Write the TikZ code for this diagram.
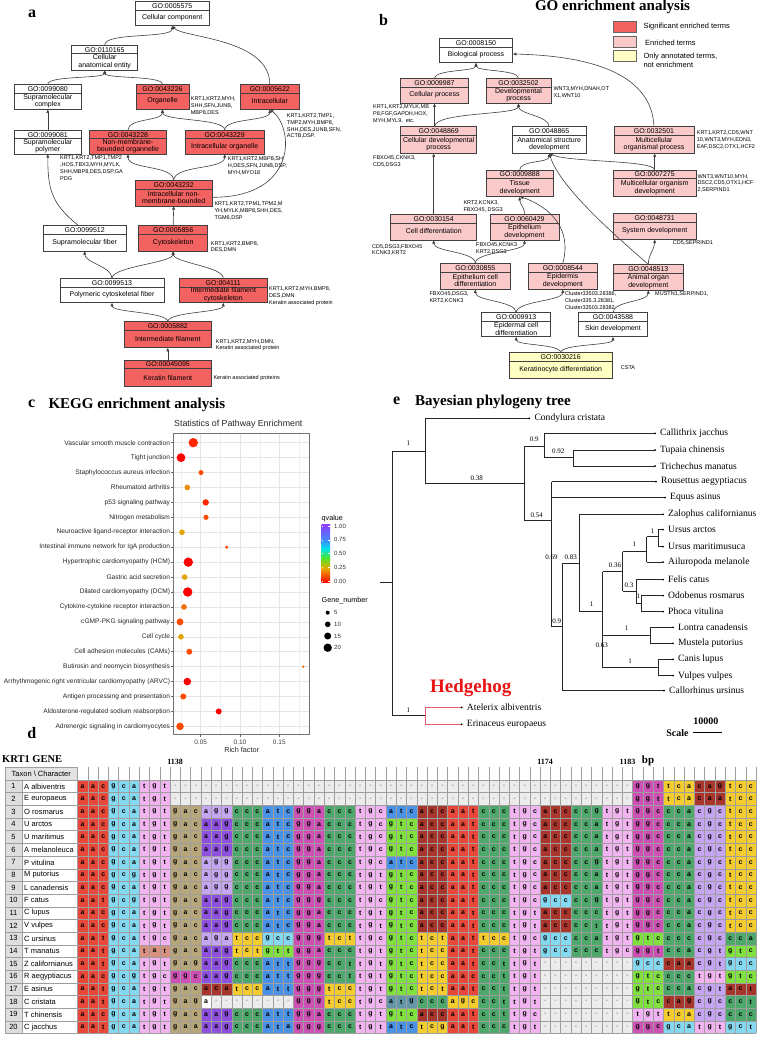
\documentclass[tikz,border=0pt]{standalone}
\usepackage{fontspec}
\setmainfont{Liberation Serif}
\newfontfamily\sansf{Liberation Sans}
\usetikzlibrary{arrows.meta,calc}
\definecolor{goRed}{RGB}{242,98,96}
\definecolor{goPink}{RGB}{250,202,202}
\definecolor{goYel}{RGB}{255,255,196}
\definecolor{cN}{RGB}{232,72,58}
\definecolor{cA}{RGB}{132,216,240}
\definecolor{cC}{RGB}{242,180,240}
\definecolor{cD}{RGB}{182,166,122}
\definecolor{cR}{RGB}{198,165,242}
\definecolor{cK}{RGB}{142,80,222}
\definecolor{cP}{RGB}{78,168,108}
\definecolor{cI}{RGB}{74,146,230}
\definecolor{cG}{RGB}{205,80,180}
\definecolor{cT}{RGB}{168,54,44}
\definecolor{cV}{RGB}{128,224,64}
\definecolor{cS}{RGB}{245,204,46}
\definecolor{cY}{RGB}{216,145,126}
\definecolor{cM}{RGB}{100,150,170}
\definecolor{gapc}{RGB}{236,236,236}
\definecolor{qR}{RGB}{255,0,0}
\definecolor{qR2}{RGB}{255,40,0}
\definecolor{qO1}{RGB}{255,75,0}
\definecolor{qO2}{RGB}{245,110,0}
\definecolor{qO3}{RGB}{235,140,0}
\definecolor{qY}{RGB}{225,165,0}
\definecolor{hedge}{RGB}{225,90,105}
\newcommand\gofont{\sansf\fontsize{7}{7.7}\selectfont}
\newcommand\genefont{\sansf\fontsize{5.5}{6.85}\selectfont}
\newcommand\gob[8]{%
  \node[gobox,fill=#6,minimum width=#4pt,minimum height=#5pt] (#1) at (#2,#3) {};
  \draw[black!75,line width=0.5pt] ([yshift=-8.5pt]#1.north west) -- ([yshift=-8.5pt]#1.north east);
  \node[font=\gofont,inner sep=0pt] (#1-id) at ([yshift=-4.6pt]#1.north) {#7};
  \node[font=\gofont,align=center,inner sep=0pt] (#1-tx) at ($(#1.south)!0.5!([yshift=-8.5pt]#1.north)$) {#8};
}
\newcommand\defcod[2]{\expandafter\def\csname cc#1\endcsname{#2}}
\defcod{aac}{cN}\defcod{aat}{cN}
\defcod{gca}{cA}\defcod{gcg}{cA}\defcod{gcc}{cA}\defcod{gct}{cA}
\defcod{tgt}{cC}\defcod{tgc}{cC}
\defcod{tat}{cY}
\defcod{gac}{cD}\defcod{gag}{cD}\defcod{gaa}{cD}
\defcod{agg}{cR}\defcod{aga}{cR}\defcod{cgc}{cR}\defcod{cgt}{cR}
\defcod{aag}{cK}
\defcod{ccc}{cP}\defcod{cca}{cP}\defcod{ccg}{cP}\defcod{cct}{cP}
\defcod{atc}{cI}\defcod{att}{cI}\defcod{ata}{cI}
\defcod{atg}{cM}
\defcod{gga}{cG}\defcod{ggg}{cG}\defcod{ggc}{cG}\defcod{ggt}{cG}
\defcod{acc}{cT}\defcod{aca}{cT}\defcod{act}{cT}\defcod{cag}{cT}\defcod{caa}{cT}
\defcod{gtc}{cV}\defcod{gtt}{cV}
\defcod{tca}{cS}\defcod{tcc}{cS}\defcod{tct}{cS}\defcod{tcg}{cS}\defcod{agc}{cS}
\defcod{---}{gapc}\defcod{a--}{white}
\newcommand\defseq[2]{\expandafter\def\csname seqrow#1\endcsname{#2}}
\defseq{1}{aac,gca,tgt,---,---,---,---,---,---,---,---,---,---,---,---,---,---,---,ggt,tca,cag,tcc}
\defseq{2}{aac,gca,tgt,---,---,---,---,---,---,---,---,---,---,---,---,---,---,---,ggt,tca,caa,tcc}
\defseq{3}{aac,gca,tgt,gac,agg,ccc,atc,gga,ccc,tgc,atc,acc,aat,ccc,tgc,acc,ccg,tgt,ggc,cca,cgc,tcc}
\defseq{4}{aac,gca,tgt,gac,aag,ccc,atc,gga,ccc,tgc,gtc,acc,aat,ccc,tgc,acc,cca,tgt,ggc,cca,cgc,tcc}
\defseq{5}{aac,gca,tgt,gac,aag,ccc,atc,gga,ccc,tgc,gtc,acc,aat,ccc,tgc,acc,cca,tgt,ggc,cca,cgc,tcc}
\defseq{6}{aac,gca,tgt,gac,aag,ccc,atc,gga,ccc,tgc,gtc,acc,aat,ccc,tgc,acc,cca,tgt,ggc,cca,cgc,tcc}
\defseq{7}{aac,gca,tgt,gac,agg,ccc,atc,gga,ccc,tgc,atc,acc,aat,ccc,tgc,acc,ccg,tgt,ggc,cca,cgc,tcc}
\defseq{8}{aac,gcg,tgt,gac,agg,ccc,atc,gga,ccc,tgt,gtc,acc,aat,ccc,tgc,acc,cca,tgt,ggc,cca,cgc,tcc}
\defseq{9}{aac,gca,tgt,gac,agg,ccc,atc,gga,ccc,tgt,gtc,acc,aat,ccc,tgc,acc,cca,tgt,ggc,cca,cgc,tcc}
\defseq{10}{aat,gcg,tgt,gac,aag,ccc,atc,ggg,ccc,tgc,gtc,acc,aat,ccc,tgc,gcc,ccg,tgt,ggc,cca,cgc,tcc}
\defseq{11}{aac,gca,tgt,gac,aag,ccc,atc,gga,ccc,tgt,gtc,acc,aat,ccc,tgt,acc,ccc,tgt,ggc,cca,cgc,tcc}
\defseq{12}{aac,gca,tgt,gac,aag,ccc,atc,gga,ccc,tgt,gtc,acc,aat,ccc,tgt,acc,cct,tgt,ggc,cca,cgc,tcc}
\defseq{13}{aat,gca,tgc,gac,aga,tcc,gcc,ggg,tct,tgc,gtc,tct,aat,tcc,tgc,gcc,cca,tgt,gtc,ccc,cgc,cca}
\defseq{14}{aat,gca,tat,gac,aag,tct,gtt,gga,ccc,tgt,gtc,tcc,aat,ccc,tgt,gcc,ccc,tgc,ggt,cca,cgt,gtc}
\defseq{15}{aat,gca,tgt,gag,aag,ccc,att,ggg,cct,tgt,gtc,tcc,aat,cct,tgt,---,---,---,gcc,caa,cgt,gcc}
\defseq{16}{aac,gcg,tgc,ggc,aag,ccc,att,ggg,cct,tgt,gtc,tcc,aac,cct,tgt,---,---,---,gtc,ccc,tgt,gtc}
\defseq{17}{aat,gca,tgt,gac,aca,tcc,att,ggg,tcc,tgt,gtc,tct,aat,cct,tgt,---,---,---,gtc,cca,cgt,act}
\defseq{18}{aat,gca,tgt,gag,a--,---,---,ggg,tcc,tgc,atg,ccc,agc,cct,tgt,---,---,---,gtc,cag,cgc,cct}
\defseq{19}{aac,gca,tgt,gac,aag,ccc,att,gga,ccc,tgt,gtc,acc,aat,cct,tgc,---,---,---,tgt,tca,cgc,ccc}
\defseq{20}{aat,gca,tgt,gaa,aag,ccc,ata,ggg,ccc,tgt,atc,tcg,aat,ccc,tgt,---,---,---,ggc,gca,tgt,gct}
\def\splitcod#1#2#3\relax{\dochar{0}{#1}\dochar{1}{#2}\dochar{2}{#3}}
\newcommand\dochar[2]{%
  \pgfmathsetmacro\qx{77.5+(3*\k+#1)*10.28}%
  \if#2-\def\qcol{gapc}\def\qtxt{\textcolor{black!40}{-}}\else\edef\qcol{\csname cc\cod\endcsname}\def\qtxt{#2}\fi
  \fill[fill=\qcol] (\qx,\ry) rectangle ++(10.28,12.67);
  \node[seqtxt] (s\r-\k-#1) at (\qx+5.14,\ry+6.4) {\qtxt};
}
\newcommand\tleaf[4]{%
  \node[circle,fill=black,inner sep=0pt,minimum size=2pt] (#1) at (#2,#3) {};
  \node[font=\fontsize{9.6}{10}\selectfont,anchor=west,inner sep=0pt] (#1-l) at (#2+5,#3) {#4};
}
\begin{document}
\begin{tikzpicture}[x=1pt,y=-1pt,
  gobox/.style={draw=black!75,line width=0.6pt,inner sep=0pt,outer sep=0pt},
  goedge/.style={draw=black!75,line width=0.6pt,-{Latex[length=3.6pt,width=3.2pt]}},
  gene/.style={font=\genefont,align=left,inner sep=0pt,anchor=north west},
  genew/.style={font=\genefont,inner sep=0pt,anchor=west},
  plab/.style={font=\bfseries\fontsize{16}{16}\selectfont,inner sep=0pt},
  ttl/.style={font=\bfseries\fontsize{15}{15}\selectfont,inner sep=0pt},
  tree/.style={line width=0.6pt,black!85},
  supp/.style={font=\fontsize{7}{7}\selectfont,inner sep=0pt},
  seqtxt/.style={font=\sansf\bfseries\fontsize{6.9}{7}\selectfont,inner sep=0pt},
  tblf/.style={font=\sansf\fontsize{7.5}{8}\selectfont,inner sep=0pt},
  kegf/.style={font=\sansf\fontsize{6.6}{7}\selectfont,inner sep=0pt,text=black!85},
  legf/.style={font=\sansf\fontsize{7.5}{8.3}\selectfont,inner sep=0pt,align=left}]
\useasboundingbox (0,0) rectangle (760,1039);
\fill[white] (0,0) rectangle (760,1039);

% ================= panel a =================
\node[plab] (la) at (32,14) {a};
\gob{a1}{172.2}{13.7}{74.3}{24}{white}{GO:0005575}{Cellular component}
\gob{a2}{104.7}{57.5}{66}{25}{white}{GO:0110165}{Cellular\\anatomical entity}
\gob{a3}{47.8}{96.8}{67.7}{25}{white}{GO:0099080}{Supramolecular\\complex}
\gob{a4}{162.5}{96.8}{53}{25}{goRed}{GO:0043226}{Organelle}
\gob{a5}{269.8}{96.8}{58.3}{25}{goRed}{GO:0005622}{Intracellular}
\gob{a6}{47.8}{142}{67.7}{24}{white}{GO:0099081}{Supramolecular\\polymer}
\gob{a7}{128}{142}{77.3}{24}{goRed}{GO:0043228}{Non-membrane-\\bounded organnelle}
\gob{a8}{224.7}{142}{78.7}{24}{goRed}{GO:0043229}{Intracellular organelle}
\gob{a9}{173.7}{193.3}{77.3}{25.3}{goRed}{GO:0043232}{Intracellular non-\\membrane-bounded}
\gob{a10}{84.7}{238.3}{82.7}{25.3}{white}{GO:0099512}{Supramolecular fiber}
\gob{a11}{173.2}{238.3}{69}{25.3}{goRed}{GO:0005856}{Cytoskeleton}
\gob{a12}{112}{290.5}{104}{24.3}{white}{GO:0099513}{Polymeric cytoskeletal fiber}
\gob{a13}{223.3}{290.5}{88}{24.3}{goRed}{GO:004111}{Intermediate filament\\cytoskeleton}
\gob{a14}{167.8}{334.7}{87.7}{26}{goRed}{GO:0005882}{Intermediate filament}
\gob{a15}{167.8}{373.3}{87.7}{26.7}{goRed}{GO:00045095}{Keratin filament}

\node[gene] (a4g) at (190.7,96.6) {KRT1,KRT2,MYH,\\SHH,SFN,JUNB,\\MBP8,DES};
\node[gene] (a5g) at (286.7,113.3) {KRT1,KRT2,TMP1,\\TMP2,MYH,BMP8,\\SHH,DES,JUNB,SFN,\\ACTB,DSP.};
\node[gene] (a7g) at (60,155.6) {KRT1,KRT2,TMP1,TMP2\\,HOS,TBX3,MYH,MYLK,\\SHH,MBP8,DES,DSP,GA\\PDG};
\node[gene] (a8g) at (227.7,156.3) {KRT1,KRT2,MBP8,SH\\H,DES,SFN,JUNB,DSP,\\MYH,MYO18};
\node[gene] (a9g) at (214.3,201.6) {KRT1,KRT2,TPM1,TPM2,M\\YH,MYLK,MBP8,SHH,DES,\\TGM6,DSP};
\node[gene] (a11g) at (210.7,241) {KRT1,KRT2,BMP8,\\DES,DMN};
\node[gene] (a13g) at (269,286.3) {KRT1,KRT2,MYH,BMP8,\\DES,DMN\\Keratin associated protein};
\node[gene] (a14g) at (215.7,339) {KRT1,KRT2,MYH,DMN,\\Keratin associated protein};
\node[genew] (a15g) at (213.3,377.7) {Keratin associated proteins};

\draw[goedge] (a2.north) .. controls +(0,-13) and +(0,13) .. (a1.south);
\draw[goedge] (a5.north) .. controls +(0,-46) and +(10,12) .. (a1.south);
\draw[goedge] (a3.north) .. controls +(0,-9) and +(0,9) .. (a2.south);
\draw[goedge] (a4.north) .. controls +(0,-9) and +(0,9) .. (a2.south);
\draw[goedge] (a6.north) -- (a3.south);
\draw[goedge] (a7.north) .. controls +(0,-12) and +(0,12) .. (a4.south);
\draw[goedge] (a8.north) .. controls +(0,-12) and +(0,12) .. (a4.south);
\draw[goedge] (a8.north) .. controls +(0,-12) and +(0,12) .. (a5.south);
\draw[goedge] (a9.north) .. controls +(0,-16) and +(0,16) .. (a7.south);
\draw[goedge] (a9.north) .. controls +(0,-16) and +(0,16) .. (a8.south);
\draw[goedge] ([yshift=-4pt]a9.east) .. controls (298,197.3) and (294,128) .. (a5.south);
\draw[goedge] ([xshift=-6pt]a10.north) .. controls +(-28,-22) and +(0,34) .. (a6.south);
\draw[goedge] (a11.north) -- (a9.south);
\draw[goedge] (a12.north) .. controls +(0,-12) and +(0,12) .. (a10.south);
\draw[goedge] (a12.north) .. controls +(0,-12) and +(0,12) .. (a11.south);
\draw[goedge] (a13.north) .. controls +(0,-12) and +(0,12) .. (a11.south);
\draw[goedge] (a14.north) .. controls +(0,-10) and +(0,10) .. (a12.south);
\draw[goedge] (a14.north) .. controls +(0,-10) and +(0,10) .. (a13.south);
\draw[goedge] (a15.north) -- (a14.south);

% ================= panel b =================
\node[plab] (lb) at (383.5,20) {b};
\node[ttl] (tb) at (612.5,7) {GO enrichment analysis};
\node[draw=black!60,fill=goRed,minimum width=22.7pt,minimum height=11pt,inner sep=0pt] (lg1) at (624.7,26.2) {};
\node[draw=black!60,fill=goPink,minimum width=22.7pt,minimum height=11pt,inner sep=0pt] (lg2) at (624.7,41.2) {};
\node[draw=black!60,fill=goYel,minimum width=22.7pt,minimum height=11pt,inner sep=0pt] (lg3) at (624.7,55.5) {};
\node[legf,anchor=west] (lg1t) at (643.3,26.7) {Significant enriched terms};
\node[legf,anchor=west] (lg2t) at (645,42.5) {Enriched terms};
\node[legf,anchor=north west] (lg3t) at (643.3,53.3) {Only annotated terms,\\not enrichment};

\gob{b1}{476}{50.5}{73.4}{24.4}{white}{GO:0008150}{Biological process}
\gob{b2}{434.5}{90.8}{67.6}{25}{goPink}{GO:0009987}{Cellular process}
\gob{b3}{518.5}{90.8}{65}{25}{goPink}{GO:0032502}{Developmental\\process}
\gob{b4}{438.7}{140}{76}{26.6}{goPink}{GO:0048869}{Cellular developmental\\process}
\gob{b5}{549.2}{140}{73.7}{26.6}{white}{GO:0048865}{Anatomical structure\\development}
\gob{b6}{654}{140}{80}{26.6}{goPink}{GO:0032501}{Multicellular\\organismal process}
\gob{b7}{519.7}{183.3}{67.3}{26.7}{goPink}{GO:0009888}{Tissue\\development}
\gob{b8}{654.7}{183.3}{82.7}{26.7}{goPink}{GO:0007275}{Multicellular organism\\development}
\gob{b9}{433.7}{227.2}{86}{25.7}{goPink}{GO:0030154}{Cell differentiation}
\gob{b10}{524.5}{227.2}{69}{25.7}{goPink}{GO:0060429}{Epithelium\\development}
\gob{b11}{654.7}{226.3}{82.7}{26}{goPink}{GO:0048731}{System development}
\gob{b12}{475.3}{276.3}{69.3}{26}{goPink}{GO:0030855}{Epithelium cell\\differentiation}
\gob{b13}{562.8}{276.3}{69}{26}{goPink}{GO:0008544}{Epidermis\\development}
\gob{b14}{648.3}{277.2}{70}{25.7}{goPink}{GO:0048513}{Animal organ\\development}
\gob{b15}{516.2}{324.7}{69}{24}{white}{GO:0009913}{Epidermal cell\\differentiation}
\gob{b16}{613}{324.7}{69.4}{24}{white}{GO:0043588}{Skin development}
\gob{b17}{560.7}{365.5}{103.3}{25.6}{goYel}{GO:0030216}{Keratinocyte differentiation}

\node[gene] (b2g) at (373,104.6) {KRT1,KRT2,MYLK,MB\\P8,FGF,GAPDH,HOX,\\MYH,MYL9,\ \ etc.};
\node[gene] (b3g) at (553.3,86.6) {WNT3,MYH,DNAH,OT\\X1,WNT10};
\node[gene] (b4g) at (373,155.6) {FBXO45,CKNK3,\\CD5,DSG3};
\node[gene] (b6g) at (696.7,130.6) {KRT1,KRT2,CD5,WNT\\10,WNT3,MYH,EDN3,\\EAF,DSC2,OTX1,HCF2};
\node[gene] (b8g) at (697.3,174) {WNT3,WNT10,MYH,\\DSC2,CD5,OTX1,HCF\\2,SERPIND1};
\node[gene] (b9g) at (372,244) {CD5,DSG3,FBXO45\\KCNK3,KRT2};
\node[gene] (b10ga) at (463.3,200.6) {KRT2,KCNK3,\\FBXO45, DSG3};
\node[gene] (b10gb) at (476,242.3) {FBXO45,KCNK3\\KRT2,DSG3};
\node[genew] (b11g) at (672.7,242.7) {CD5,SEPRIND1};
\node[gene] (b12g) at (429.3,291.3) {FBXO45,DSG3,\\KRT2,KCNK3};
\node[gene] (b13g) at (565,291.3) {Cluster33503.28386,\\Cluster335.3.28381,\\Cluster33503.28382};
\node[genew] (b14g) at (655,294) {MUSTN1,SERPIND1,};
\node[genew] (b17g) at (620.7,367.3) {CSTA};

\draw[goedge] (b2.north) .. controls +(0,-9) and +(0,9) .. (b1.south);
\draw[goedge] (b3.north) .. controls +(0,-9) and +(0,9) .. (b1.south);
\draw[goedge] (b6.north) .. controls (652,78) and (600,56) .. ([yshift=-3.5pt]b1.east);
\draw[goedge] (b2.south |- b4.north) -- (b2.south);
\draw[goedge] (b2.south |- b4.north) .. controls +(0,-15) and +(0,12) .. (b3.south);
\draw[goedge] (b5.north) .. controls +(0,-11) and +(0,11) .. (b3.south);
\draw[goedge] (b9.north) -- (b9.north |- b4.south);
\draw[goedge] (b7.north) .. controls +(0,-10) and +(0,10) .. (b5.south);
\draw[goedge] (b8.north) .. controls +(0,-10) and +(18,9) .. (b5.south);
\draw[goedge] (b8.north) -- (b8.north |- b6.south);
\draw[goedge] (b14.north) .. controls (618,238) and (560,188) .. (b5.south);
\draw[goedge] (b14.north) .. controls +(0,-10) and +(0,10) .. (b11.south);
\draw[goedge] (b10.north) .. controls +(0,-8) and +(0,8) .. (b7.south);
\draw[goedge] (b13.north) .. controls (574,222) and (540,203) .. (b7.south);
\draw[goedge] (b12.north) .. controls +(0,-12) and +(0,12) .. (b9.south);
\draw[goedge] (b12.north) .. controls +(0,-12) and +(0,12) .. (b10.south);
\draw[goedge] (b15.north) .. controls +(0,-12) and +(0,12) .. (b12.south);
\draw[goedge] (b15.north) .. controls +(0,-12) and +(0,12) .. (b13.south);
\draw[goedge] (b16.north) .. controls +(0,-12) and +(0,12) .. (b14.south);
\draw[goedge] (b17.north) .. controls +(0,-9) and +(0,9) .. (b15.south);
\draw[goedge] (b17.north) .. controls +(0,-9) and +(0,9) .. (b16.south);

% ================= panel c =================
\node[plab] (lc) at (31.7,404) {c};
\node[ttl,anchor=west] (tc) at (48.3,405) {KEGG enrichment analysis};
\node[font=\sansf\fontsize{8.8}{9}\selectfont,inner sep=0pt,text=black!85] (tcs) at (238.3,424.3) {Statistics of Pathway Enrichment};
\fill[white] (173.3,433.3) rectangle (309.3,734.3);
\foreach \i in {0,...,19}{\draw[black!10,line width=0.5pt] (173.3,442.7+\i*14.93) -- (309.3,442.7+\i*14.93);}
\foreach \xx in {181,220.3,259.7,299}{\draw[black!6,line width=0.35pt] (\xx,433.3) -- (\xx,734.3);}
\foreach \xx in {200.7,240,279.3}{\draw[black!10,line width=0.5pt] (\xx,433.3) -- (\xx,734.3);}
\foreach \lab/\xx/\rr/\cl [count=\i] in {
 Vascular smooth muscle contraction/193.3/4.7/qR2,
 Tight junction/181/4.4/qR,
 Staphylococcus aureus infection/201/2.5/qO1,
 Rheumatoid arthritis/187.3/2.8/qO3,
 p53 signaling pathway/205.7/3.2/qR2,
 Nitrogen metabolism/206/2.6/qO1,
 Neuroactive ligand-receptor interaction/182/2.8/qY,
 Intestinal immune network for IgA production/226.7/1.7/qO1,
 Hypertrophic cardiomyopathy (HCM)/188.3/4.7/qR,
 Gastric acid secretion/184.7/2.8/qY,
 Dilated cardiomyopathy (DCM)/187.7/4.7/qR,
 Cytokine-cytokine receptor interaction/184/2.8/qO2,
 cGMP-PKG signaling pathway/180/3.5/qO1,
 Cell cycle/181/2.8/qY,
 Cell adhesion molecules (CAMs)/189.3/3/qO1,
 Butirosin and neomycin biosynthesis/303.3/1.3/qO2,
 Arrhythmogenic right ventricular cardiomyopathy (ARVC)/187.3/3.8/qR,
 Antigen processing and presentation/183.3/3/qO1,
 Aldosterone-regulated sodium reabsorption/218.7/3/qR,
 Adrenergic signaling in cardiomyocytes/180/3.8/qO1}{
  \pgfmathsetmacro\yy{442.7+(\i-1)*14.93}
  \node[kegf,anchor=east] (kl\i) at (170.2,\yy) {\lab};
  \draw[black!60,line width=0.5pt] (170.6,\yy) -- (173.3,\yy);
  \node[circle,fill=\cl,inner sep=0pt,minimum size=2*\rr pt] (kd\i) at (\xx,\yy) {};
}
\draw[black!55,line width=0.8pt] (173.3,433.3) rectangle (309.3,734.3);
\foreach \xx/\tt [count=\j] in {200.7/0.05,240/0.10,279.3/0.15}{
  \draw[black!60,line width=0.5pt] (\xx,734.3) -- (\xx,737);
  \node[font=\sansf\fontsize{6.5}{7}\selectfont,inner sep=0pt,text=black!75] (xt\j) at (\xx,742) {\tt};
}
\node[font=\sansf\fontsize{7.3}{8}\selectfont,inner sep=0pt,text=black!85] (rf) at (241.7,750.3) {Rich factor};
% legend
\node[font=\sansf\fontsize{7.2}{8}\selectfont,inner sep=0pt,anchor=west] (qv) at (321.5,518.3) {qvalue};
\shade[top color={rgb,255:red,145;green,60;blue,255},bottom color={rgb,255:red,70;green,130;blue,255}] (321.7,524.3) rectangle (330,538.9);
\shade[top color={rgb,255:red,70;green,130;blue,255},bottom color={rgb,255:red,0;green,225;blue,230}] (321.7,538.9) rectangle (330,548.8);
\shade[top color={rgb,255:red,0;green,225;blue,230},bottom color={rgb,255:red,80;green,230;blue,40}] (321.7,548.8) rectangle (330,558.2);
\shade[top color={rgb,255:red,80;green,230;blue,40},bottom color={rgb,255:red,230;green,170;blue,0}] (321.7,558.2) rectangle (330,568.1);
\shade[top color={rgb,255:red,230;green,170;blue,0},bottom color={rgb,255:red,255;green,0;blue,0}] (321.7,568.1) rectangle (330,582.7);
\foreach \yy/\tt [count=\j] in {526/1.00,539.7/0.75,553.3/0.50,567/0.25,581/0.00}{
  \draw[white,line width=0.4pt] (321.7,\yy) -- (323.3,\yy) (328.4,\yy) -- (330,\yy);
  \node[font=\sansf\fontsize{6}{6}\selectfont,inner sep=0pt,anchor=west,text=black!80] (qt\j) at (334,\yy) {\tt};
}
\node[font=\sansf\fontsize{7.2}{8}\selectfont,inner sep=0pt,anchor=west] (gn) at (321.5,600.7) {Gene\_number};
\foreach \yy/\rr/\tt [count=\j] in {612.7/2/5,624.3/2.8/10,636/3.5/15,647.7/4.2/20}{
  \node[circle,fill=black,inner sep=0pt,minimum size=2*\rr pt] (gd\j) at (327.7,\yy) {};
  \node[font=\sansf\fontsize{6}{6}\selectfont,inner sep=0pt,anchor=west,text=black!80] (gt\j) at (334,\yy) {\tt};
}

% ================= panel e =================
\node[plab] (le) at (396.7,401) {e};
\node[ttl,anchor=west] (te) at (415,401.7) {Bayesian phylogeny tree};
\draw[tree] (380,582.7) -- (392.7,582.7);
\draw[tree] (392.7,451) -- (392.7,715.7);
\draw[tree] (392.7,451) -- (425,451);
\draw[tree] (425,418.3) -- (425,483.3);
\draw[tree] (425,418.3) -- (529.3,418.3);
\draw[tree] (425,483.3) -- (524,483.3);
\draw[tree] (524,446) -- (524,520);
\draw[tree] (524,446) -- (544.3,446);
\draw[tree] (544.3,433.3) -- (544.3,457.7);
\draw[tree] (544.3,433.3) -- (655,433.3);
\draw[tree] (544.3,457.7) -- (573.3,457.7);
\draw[tree] (573.3,450) -- (573.3,466);
\draw[tree] (573.3,450) -- (655,450);
\draw[tree] (573.3,466) -- (655,466);
\draw[tree] (524,520) -- (551.7,520);
\draw[tree] (551.7,481.7) -- (551.7,626.7);
\draw[tree] (551.7,481.7) -- (656,481.7);
\draw[tree] (551.7,497.7) -- (665,497.7);
\draw[tree] (551.7,626.7) -- (562.3,626.7);
\draw[tree] (562.3,563.3) -- (562.3,690.5);
\draw[tree] (562.3,563.3) -- (579.3,563.3);
\draw[tree] (562.3,690.5) -- (664,690.5);
\draw[tree] (579.3,514.3) -- (579.3,611.7);
\draw[tree] (579.3,514.3) -- (663,514.3);
\draw[tree] (579.3,611.7) -- (602.7,611.7);
\draw[tree] (602.7,571.7) -- (602.7,667.7);
\draw[tree] (602.7,571.7) -- (622.7,571.7);
\draw[tree] (622.7,551.7) -- (622.7,591);
\draw[tree] (622.7,551.7) -- (646.7,551.7);
\draw[tree] (646.7,536.7) -- (646.7,562);
\draw[tree] (646.7,536.7) -- (658.3,536.7);
\draw[tree] (658.3,529.5) -- (658.3,546.5);
\draw[tree] (658.3,529.5) -- (663,529.5);
\draw[tree] (658.3,546.5) -- (663,546.5);
\draw[tree] (646.7,562) -- (663,562);
\draw[tree] (622.7,591) -- (636,591);
\draw[tree] (636,579.5) -- (636,603.3);
\draw[tree] (636,579.5) -- (663,579.5);
\draw[tree] (636,603.3) -- (641,603.3);
\draw[tree] (641,595.5) -- (641,611.7);
\draw[tree] (641,595.5) -- (663,595.5);
\draw[tree] (641,611.7) -- (663,611.7);
\draw[tree] (602.7,635) -- (650,635);
\draw[tree] (650,627.3) -- (650,643.3);
\draw[tree] (650,627.3) -- (673,627.3);
\draw[tree] (650,643.3) -- (673,643.3);
\draw[tree] (602.7,667.7) -- (658.3,667.7);
\draw[tree] (658.3,659.3) -- (658.3,675.7);
\draw[tree] (658.3,659.3) -- (673,659.3);
\draw[tree] (658.3,675.7) -- (673,675.7);
\draw[tree] (392.7,715.7) -- (425,715.7);
\draw[line width=0.6pt,hedge] (425,707.3) -- (425,724.3);
\draw[line width=0.6pt,hedge] (425,707.3) -- (461.7,707.3);
\draw[line width=0.6pt,hedge] (425,724.3) -- (461.7,724.3);
\tleaf{t1}{529.3}{418.3}{Condylura cristata}
\tleaf{t2}{655}{433.3}{Callithrix jacchus}
\tleaf{t3}{655}{450}{Tupaia chinensis}
\tleaf{t4}{655}{466}{Trichechus manatus}
\tleaf{t5}{656}{481.7}{Rousettus aegyptiacus}
\tleaf{t6}{665}{497.7}{Equus asinus}
\tleaf{t7}{663}{514.3}{Zalophus californianus}
\tleaf{t8}{663}{529.5}{Ursus arctos}
\tleaf{t9}{663}{546.5}{Ursus maritimusuca}
\tleaf{t10}{663}{562}{Ailuropoda melanole}
\tleaf{t11}{663}{579.5}{Felis catus}
\tleaf{t12}{663}{595.5}{Odobenus rosmarus}
\tleaf{t13}{663}{611.7}{Phoca vitulina}
\tleaf{t14}{673}{627.3}{Lontra canadensis}
\tleaf{t15}{673}{643.3}{Mustela putorius}
\tleaf{t16}{673}{659.3}{Canis lupus}
\tleaf{t17}{673}{675.7}{Vulpes vulpes}
\tleaf{t18}{664}{690.5}{Callorhinus ursinus}
\tleaf{t19}{461.7}{707.3}{Atelerix albiventris}
\tleaf{t20}{461.7}{724.3}{Erinaceus europaeus}
\node[supp] (e1) at (408.3,443.3) {1};
\node[supp] (e2) at (476.7,478) {0.38};
\node[supp] (e3) at (534.3,439.3) {0.9};
\node[supp] (e4) at (558.3,451) {0.92};
\node[supp] (e5) at (536.7,515.5) {0.54};
\node[supp] (e6) at (551.5,557.3) {0.69};
\node[supp] (e7) at (570.7,557.3) {0.83};
\node[supp] (e8) at (556.7,621) {0.9};
\node[supp] (e9) at (591.7,604.3) {1};
\node[supp] (e10) at (615,565) {0.36};
\node[supp] (e11) at (634.3,544.3) {1};
\node[supp] (e12) at (652.7,531) {1};
\node[supp] (e13) at (629,585) {0.3};
\node[supp] (e14) at (638.3,595.7) {1};
\node[supp] (e15) at (626.7,628.3) {1};
\node[supp] (e16) at (601.7,645) {0.63};
\node[supp] (e17) at (630,661) {1};
\node[supp] (e18) at (408.3,710) {1};
\node[font=\bfseries\fontsize{19}{19}\selectfont,text={rgb,255:red,235;green,20;blue,20},inner sep=0pt] (hh) at (470.8,688.3) {Hedgehog};
\node[font=\bfseries\fontsize{10}{10}\selectfont,inner sep=0pt] (sc1) at (705.8,721.7) {10000};
\node[font=\bfseries\fontsize{10}{10}\selectfont,inner sep=0pt] (sc2) at (677.5,733.3) {Scale};
\coordinate (scA) at (693.3,732.3);
\coordinate (scB) at (721.7,732.3);
\draw[line width=0.7pt] (scA) -- (scB);

% ================= panel d =================
\node[plab] (ld) at (31.7,733.3) {d};
\node[font=\bfseries\fontsize{10.5}{11}\selectfont,inner sep=0pt,anchor=west] (kg) at (2,759.5) {KRT1 GENE};
\node[font=\bfseries\fontsize{8}{8}\selectfont,inner sep=0pt] (p1) at (175.2,761.7) {1138};
\node[font=\bfseries\fontsize{8}{8}\selectfont,inner sep=0pt] (p2) at (545.2,761.7) {1174};
\node[font=\bfseries\fontsize{8}{8}\selectfont,inner sep=0pt] (p3) at (627.5,761.7) {1183};
\node[font=\bfseries\fontsize{11}{11}\selectfont,inner sep=0pt] (p4) at (648,761.2) {bp};
\fill[black!11] (5,767) rectangle (77.5,780);
\fill[black!13] (5,780) rectangle (22,1033.4);
\node[tblf] (taxh) at (41.3,773.7) {Taxon \textbackslash{} Character};
\foreach \r/\nm in {1/A albiventris,2/E europaeus,3/O rosmarus,4/U arctos,5/U maritimus,6/A melanoleuca,7/P vitulina,8/M putorius,9/L canadensis,10/F catus,11/C lupus,12/V vulpes,13/C ursinus,14/T manatus,15/Z californianus,16/R aegyptiacus,17/E asinus,18/C cristata,19/T chinensis,20/C jacchus}{
  \pgfmathsetmacro\yy{780+(\r-0.5)*12.67}
  \node[tblf] (rn\r) at (13.5,\yy) {\r};
  \node[tblf,anchor=west] (nm\r) at (24,\yy) {\nm};
}
\foreach \r in {1,...,20}{
  \pgfmathsetmacro\ry{780+(\r-1)*12.67}
  \expandafter\let\expandafter\curseq\csname seqrow\r\endcsname
  \foreach \cod [count=\k from 0] in \curseq {\expandafter\splitcod\cod\relax}
}
\foreach \c in {0,...,66}{\draw[black!38,line width=0.4pt] (77.5+\c*10.28,767) -- (77.5+\c*10.28,1033.4);}
\foreach \r in {0,...,20}{\draw[black!38,line width=0.4pt] (5,780+\r*12.67) -- (756,780+\r*12.67);}
\draw[black!38,line width=0.4pt] (5,767) -- (77.5,767);
\draw[black!38,line width=0.4pt] (5,767) -- (5,1033.4);
\draw[black!38,line width=0.4pt] (22,780) -- (22,1033.4);
\end{tikzpicture}
\end{document}
